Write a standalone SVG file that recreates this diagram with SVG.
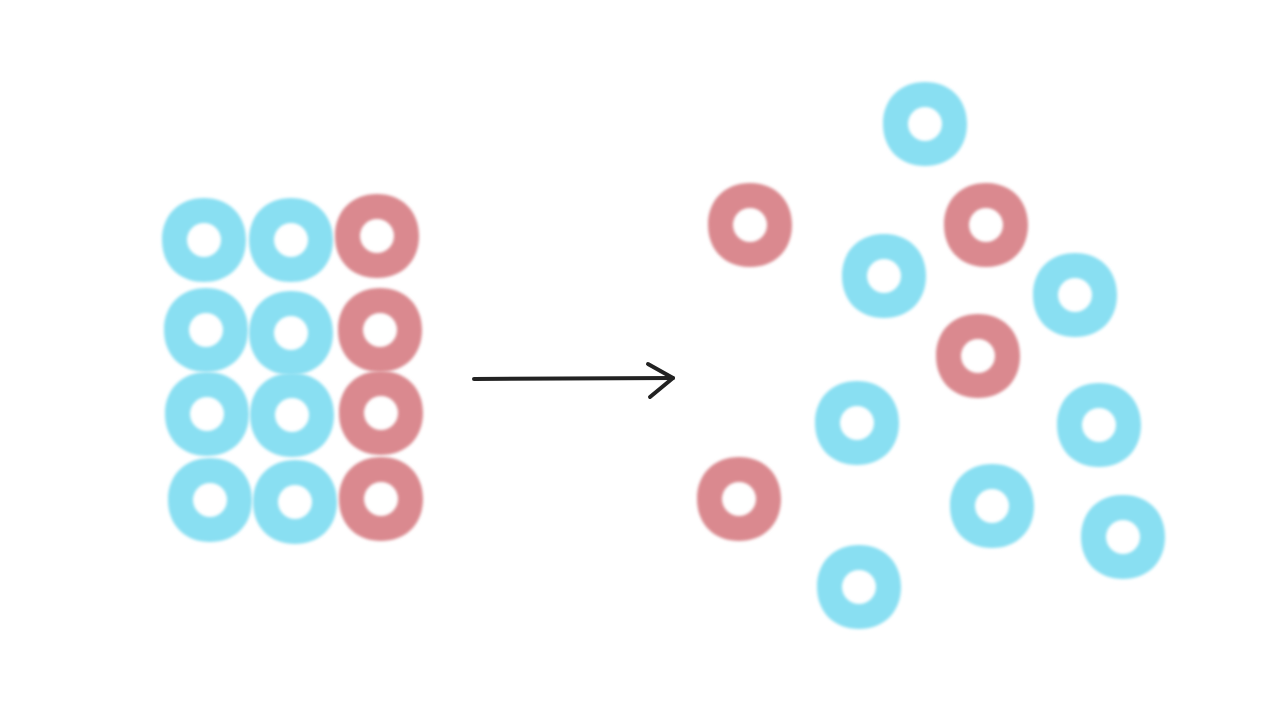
<svg xmlns="http://www.w3.org/2000/svg" xmlns:xlink="http://www.w3.org/1999/xlink" width="1280" height="720" viewBox="0 0 1280 720">
<defs>
<filter id="soft" x="-20%" y="-20%" width="140%" height="140%"><feGaussianBlur stdDeviation="1.6"/></filter>
<path id="ring" d="M-42,0 C-42,-25 -25,-42 0,-42 C25,-42 42,-25 42,0 C42,25 25,42 0,42 C-25,42 -42,25 -42,0 Z M-17,0 A17,17 0 1,0 17,0 A17,17 0 1,0 -17,0 Z" fill-rule="evenodd"/>
</defs>
<style>
.b{fill:#89dff2;filter:url(#soft)}
.r{fill:#da898f;filter:url(#soft)}
.arrow{fill:none;stroke:#222;stroke-width:4;stroke-linecap:round;stroke-linejoin:round}
</style>
<rect width="1280" height="720" fill="#fff"/>
<g id="grid">
<g id="g11"><use xlink:href="#ring" class="b" transform="translate(204,240)"/></g>
<g id="g12"><use xlink:href="#ring" class="b" transform="translate(291,240)"/></g>
<g id="g13"><use xlink:href="#ring" class="r" transform="translate(377,236)"/></g>
<g id="g21"><use xlink:href="#ring" class="b" transform="translate(206,330)"/></g>
<g id="g22"><use xlink:href="#ring" class="b" transform="translate(291,333)"/></g>
<g id="g23"><use xlink:href="#ring" class="r" transform="translate(380,330)"/></g>
<g id="g31"><use xlink:href="#ring" class="b" transform="translate(207,414)"/></g>
<g id="g32"><use xlink:href="#ring" class="b" transform="translate(292,415)"/></g>
<g id="g33"><use xlink:href="#ring" class="r" transform="translate(381,413)"/></g>
<g id="g41"><use xlink:href="#ring" class="b" transform="translate(210,500)"/></g>
<g id="g42"><use xlink:href="#ring" class="b" transform="translate(295,502)"/></g>
<g id="g43"><use xlink:href="#ring" class="r" transform="translate(381,499)"/></g>
</g>
<g id="connectors">
<path class="arrow" d="M474,379 L673,378"/>
<path class="arrow" d="M648,364 L673,378 L650,397"/>
</g>
<g id="scatter">
<g id="s1"><use xlink:href="#ring" class="b" transform="translate(925,124)"/></g>
<g id="s2"><use xlink:href="#ring" class="r" transform="translate(750,225)"/></g>
<g id="s3"><use xlink:href="#ring" class="r" transform="translate(986,225)"/></g>
<g id="s4"><use xlink:href="#ring" class="b" transform="translate(884,276)"/></g>
<g id="s5"><use xlink:href="#ring" class="b" transform="translate(1075,295)"/></g>
<g id="s6"><use xlink:href="#ring" class="r" transform="translate(978,356)"/></g>
<g id="s7"><use xlink:href="#ring" class="b" transform="translate(857,423)"/></g>
<g id="s8"><use xlink:href="#ring" class="b" transform="translate(1099,425)"/></g>
<g id="s9"><use xlink:href="#ring" class="r" transform="translate(739,499)"/></g>
<g id="s10"><use xlink:href="#ring" class="b" transform="translate(992,506)"/></g>
<g id="s11"><use xlink:href="#ring" class="b" transform="translate(1123,537)"/></g>
<g id="s12"><use xlink:href="#ring" class="b" transform="translate(859,587)"/></g>
</g>
</svg>
